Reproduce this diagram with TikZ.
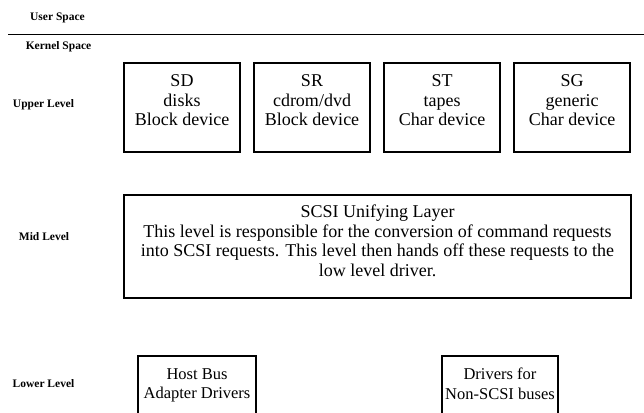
\documentclass[tikz,border=0pt]{standalone}
\usepackage{fontspec}
\setmainfont{Liberation Serif}
\tikzset{
  box/.style={draw, line width=1.6pt, align=center, inner sep=0pt,
    font=\fontsize{18}{19.5}\selectfont, text depth=14pt},
  levellabel/.style={font=\fontsize{11.5}{12}\selectfont\bfseries}
}
\begin{document}
\begin{tikzpicture}[x=1pt,y=-1pt]
      \useasboundingbox (0,0) rectangle (644,412);
      \clip (0,0) rectangle (644,412);
      \draw
        (57.5,18) node[levellabel] (user){User Space}
        (58.5,47) node[levellabel] (kernel){Kernel Space}
        (43.5,105) node[levellabel] (upper){Upper Level}
        (44,237) node[levellabel] (midlvl){Mid Level}
        (43.5,384) node[levellabel] (lower){Lower Level};
      \coordinate (sepl) at (8,34.5);
      \coordinate (sepr) at (644,34.5);
      \draw[line width=1.8pt] (sepl) -- (sepr);
      \begin{scope}[box/.append style={minimum width=116pt, minimum height=89pt}]
        \node[box] (sd) at (182,107.5) {SD\\disks\\Block device};
        \node[box] (sr) at (312,107.5) {SR\\cdrom/dvd\\Block device};
        \node[box] (st) at (442,107.5) {ST\\tapes\\Char device};
        \node[box] (sg) at (572,107.5) {SG\\generic\\Char device};
      \end{scope}
      \node[box, minimum width=507pt, minimum height=103pt, text depth=12pt] (scsi) at (377.5,246.5)
        {SCSI Unifying Layer\\This level is responsible for the conversion of command requests\\into SCSI requests. This level then hands off these requests to the\\low level driver.};
      \begin{scope}[box/.append style={minimum height=89pt, text depth=34pt,
          font=\fontsize{16.5}{19.5}\selectfont}]
        \node[box, minimum width=118pt] (hba) at (197,400.5) {Host Bus\\Adapter Drivers};
        \node[box, minimum width=116pt] (nonscsi) at (500,400.5) {Drivers for\\Non-SCSI buses};
      \end{scope}
    \end{tikzpicture}
\end{document}
